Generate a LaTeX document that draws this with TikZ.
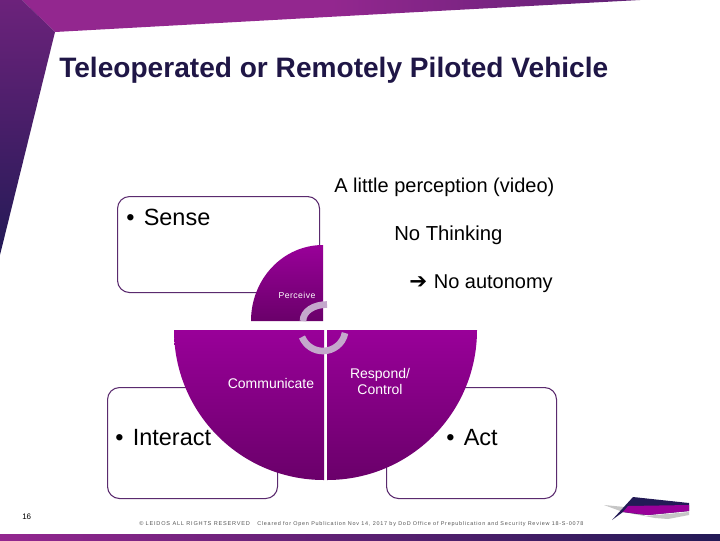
\documentclass[tikz,border=0pt]{standalone}
\usepackage{fontspec}
\setmainfont{Liberation Sans}
\newfontfamily\arrowfont{DejaVu Sans}
\newfontfamily\footfont[LetterSpace=14]{Liberation Sans}
\definecolor{titlecol}{HTML}{1F1646}
\definecolor{boxline}{HTML}{5A2A6E}
\definecolor{wedgetop}{HTML}{990099}
\definecolor{wedgebot}{HTML}{6A006A}
\definecolor{arcgray}{HTML}{C4A8CC}
\definecolor{bannerpurple}{HTML}{93278F}
\definecolor{navy}{HTML}{231A56}
\definecolor{footgray}{HTML}{555555}
\tikzset{
  x=0.75pt,y=-0.75pt,
  roundbox/.style={draw=boxline,line width=0.8pt,rounded corners=9pt,fill=white},
  wedgefill/.style={top color=wedgetop,bottom color=wedgebot,draw=none},
  cyclearc/.style={draw=arcgray,line width=5pt,line cap=butt},
  lab/.style={inner sep=0pt,anchor=base west,text=black},
  smalllab/.style={inner sep=0pt,align=center,text=#1,font=\fontsize{10.5}{12}\selectfont},
  foot/.style={inner sep=0pt,anchor=base west,text=footgray,font=\footfont\fontsize{#1}{5}\selectfont},
}
\begin{document}
\begin{tikzpicture}
\useasboundingbox (0,0) rectangle (720,540);
\fill[white] (0,0) rectangle (720,540);
% banner
\shade[left color=bannerpurple,right color=bannerpurple!55!navy,middle color=bannerpurple] (22,0) -- (55,32) -- (400,13) -- (640,0) -- cycle;
\shade[top color=bannerpurple!65!navy,bottom color=navy] (0,0) -- (22,0) -- (55,32) -- (0,255) -- cycle;
\shade[left color=bannerpurple,right color=navy] (0,534) rectangle (720,540);
% logo
\fill[gray!45] (604,505) -- (625,507) -- (640,510) -- (645,516) -- (689,512) -- (689,515) -- (668,519) -- (655,518) -- (623,512) -- cycle;
\fill[navy] (633,497) -- (689,503) -- (689,511) -- (648,515) -- (638,514) -- (623,512) -- (612,520) -- cycle;
\fill[wedgetop] (628,506) -- (689,505) -- (689,511) -- (648,515) -- (623,512) -- cycle;
% boxes
\node[roundbox,minimum width=151.5pt,minimum height=72pt,anchor=north west] (sensebox) at (117,196) {};
\node[roundbox,minimum width=127.5pt,minimum height=83.25pt,anchor=north west] (interactbox) at (107,387) {};
\node[roundbox,minimum width=127.5pt,minimum height=83.25pt,anchor=north west] (actbox) at (386,387) {};
% wedges
\shade[wedgefill] (323,245) .. controls (283,245) and (251,279) .. (251,321) -- (323,321) -- cycle;
\shade[wedgefill] (174,330) .. controls (174,413) and (241,480) .. (324,480) -- (324,330) -- cycle;
\shade[wedgefill] (477,330) .. controls (477,413) and (410,480) .. (327,480) -- (327,330) -- cycle;
% cycle arcs
\draw[cyclearc] (327,304.5) .. controls (314,304.5) and (303,311) .. (303,321);
\draw[cyclearc] (302,337) .. controls (306,346) and (314,351) .. (323,351) .. controls (333,351) and (343,344) .. (345,333);
% text
\node[inner sep=0pt,anchor=base west,text=titlecol,font=\bfseries\fontsize{21.07}{25}\selectfont] (title) at (59,77) {Teleoperated or Remotely Piloted Vehicle};
\node[lab,font=\fontsize{15}{18}\selectfont] (little) at (334,192) {A little perception (video)};
\node[lab,font=\fontsize{15.2}{18}\selectfont] (thinking) at (394,240) {No Thinking};
\node[lab,font=\fontsize{15}{18}\selectfont] (autonomy) at (409,288) {{\arrowfont\fontsize{16}{18}\selectfont ➔}\hspace{5pt}No autonomy};
\node[lab,font=\fontsize{17.6}{20}\selectfont] (sense) at (126,225) {•\hspace{7pt}Sense};
\node[lab,font=\fontsize{17.6}{20}\selectfont] (interact) at (115,445) {•\hspace{7pt}Interact};
\node[lab,font=\fontsize{17.6}{20}\selectfont] (act) at (446,445) {•\hspace{7pt}Act};
\node[inner sep=0pt,text=white,font=\fontsize{6.5}{8}\selectfont] (perceive) at (297,295) {P\kern.35pt e\kern.35pt r\kern.35pt c\kern.35pt e\kern.35pt i\kern.35pt v\kern.35pt e};
\node[smalllab=white] (communicate) at (271,383) {Communicate};
\node[smalllab=white] (respond) at (380,381.5) {Respond/\\Control};
\node[inner sep=0pt,anchor=base west,text=black,font=\fontsize{6}{7}\selectfont] (pagenum) at (22,519) {16};
\node[foot=4.2] (footer) at (139,525) {© LEIDOS ALL RIGHTS RESERVED};
\node[foot=4.09] (cleared) at (257,525) {Cleared for Open Publication Nov 14, 2017 by DoD Office of Prepublication and Security Review 18-S-0078};
\end{tikzpicture}
\end{document}
